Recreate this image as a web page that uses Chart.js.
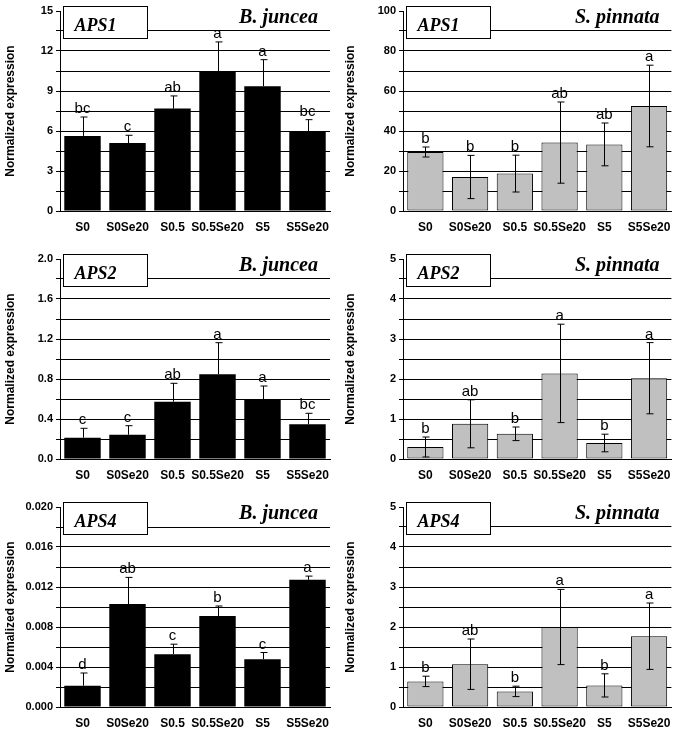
<!DOCTYPE html>
<html>
<head>
<meta charset="utf-8">
<script src="https://cdn.jsdelivr.net/npm/chart.js@4.4.0/dist/chart.umd.min.js"></script>
<style>
  html, body { margin: 0; padding: 0; background: #fff; overflow: hidden; }
  #wrap { position: relative; width: 680px; height: 731px; }
  canvas { position: absolute; }
</style>
</head>
<body>
<div id="wrap">
  <canvas id="c1" width="340" height="235" style="left:0;top:0"></canvas>
  <canvas id="c2" width="340" height="235" style="left:340px;top:0"></canvas>
  <canvas id="c3" width="340" height="235" style="left:0;top:248px"></canvas>
  <canvas id="c4" width="340" height="235" style="left:340px;top:248px"></canvas>
  <canvas id="c5" width="340" height="235" style="left:0;top:496px"></canvas>
  <canvas id="c6" width="340" height="235" style="left:340px;top:496px"></canvas>
</div>
<script>
const categories = ['S0', 'S0Se20', 'S0.5', 'S0.5Se20', 'S5', 'S5Se20'];

// APS1
const aps1Juncea = [5.63, 5.1, 7.68, 10.48, 9.35, 5.98];
const aps1JunceaSE = [1.42, 0.58, 0.95, 2.2, 2.0, 0.87];
const aps1JunceaLetters = ['bc', 'c', 'ab', 'a', 'a', 'bc'];
const aps1Pinnata = [29.5, 17, 18.7, 34.2, 33.3, 52.5];
const aps1PinnataSE = [2.5, 10.8, 9.2, 20.3, 10.7, 20.4];
const aps1PinnataLetters = ['b', 'b', 'b', 'ab', 'ab', 'a'];

// APS2
const aps2Juncea = [0.213, 0.243, 0.573, 0.847, 0.59, 0.347];
const aps2JunceaSE = [0.094, 0.09, 0.184, 0.316, 0.14, 0.11];
const aps2JunceaLetters = ['c', 'c', 'ab', 'a', 'a', 'bc'];
const aps2Pinnata = [0.3, 0.88, 0.63, 2.14, 0.4, 2.02];
const aps2PinnataSE = [0.25, 0.6, 0.17, 1.23, 0.22, 0.89];
const aps2PinnataLetters = ['b', 'ab', 'b', 'a', 'b', 'a'];

// APS4
const aps4Juncea = [0.00213, 0.0103, 0.00528, 0.0091, 0.00478, 0.01272];
const aps4JunceaSE = [0.00127, 0.00266, 0.001, 0.001, 0.00067, 0.00037];
const aps4JunceaLetters = ['d', 'ab', 'c', 'b', 'c', 'a'];
const aps4Pinnata = [0.64, 1.07, 0.39, 2.0, 0.54, 1.77];
const aps4PinnataSE = [0.13, 0.63, 0.13, 0.94, 0.29, 0.83];
const aps4PinnataLetters = ['b', 'ab', 'b', 'a', 'b', 'a'];

// y axis ranges: [max, step, decimals]
const aps1JunceaAxis = [15, 1.5, 0];
const aps1PinnataAxis = [100, 10, 0];
const aps2JunceaAxis = [2.0, 0.2, 1];
const aps2PinnataAxis = [5, 0.5, 0];
const aps4JunceaAxis = [0.02, 0.002, 3];
const aps4PinnataAxis = [5, 0.5, 0];

const SANS = "'Liberation Sans', Arial, sans-serif";
const SERIF = "'Liberation Serif', 'Times New Roman', serif";

Chart.defaults.font.family = SANS;
Chart.defaults.color = '#000';

// error bars, significance letters, gene box and species title
const panelDecor = {
    id: 'panelDecor',
    afterDatasetsDraw(chart, args, opts) {
        const ctx = chart.ctx;
        const area = chart.chartArea;
        const yScale = chart.scales.y;
        const meta = chart.getDatasetMeta(0);
        const values = chart.data.datasets[0].data;

        ctx.save();
        ctx.strokeStyle = '#000';
        ctx.lineWidth = 1;
        meta.data.forEach((bar, i) => {
            const x = Math.round(bar.x) + 0.5;
            const yTop = yScale.getPixelForValue(values[i] + opts.se[i]);
            const yLow = opts.twoSided
                ? yScale.getPixelForValue(values[i] - opts.se[i])
                : yScale.getPixelForValue(values[i]);
            ctx.beginPath();
            ctx.moveTo(x, yLow);
            ctx.lineTo(x, yTop);
            ctx.moveTo(x - 3, yTop);
            ctx.lineTo(x + 4, yTop);
            if (opts.twoSided) {
                ctx.moveTo(x - 3, yLow);
                ctx.lineTo(x + 4, yLow);
            }
            ctx.stroke();

            ctx.fillStyle = '#000';
            ctx.font = '15px ' + SANS;
            ctx.textAlign = 'center';
            ctx.textBaseline = 'alphabetic';
            ctx.fillText(opts.letters[i], bar.x, yTop - 4);
        });

        // gene name box
        const bx = area.left + 3.5;
        const by = area.top - 4.5;
        ctx.fillStyle = '#fff';
        ctx.fillRect(bx, by, 84, 32);
        ctx.strokeRect(bx, by, 84, 32);
        ctx.fillStyle = '#000';
        ctx.font = 'italic bold 18px ' + SERIF;
        ctx.textAlign = 'left';
        ctx.fillText(opts.gene, bx + 11, by + 24);

        // species name
        ctx.font = 'italic bold 20px ' + SERIF;
        ctx.textAlign = 'right';
        ctx.fillText(opts.species, area.right - 12, area.top + 12);
        ctx.restore();
    }
};

function makePanel(id, values, se, letters, axis, gene, species, gray, left) {
    const [max, step, dec] = axis;
    new Chart(document.getElementById(id), {
        type: 'bar',
        data: {
            labels: categories,
            datasets: [{
                data: values,
                backgroundColor: gray ? '#c0c0c0' : '#000',
                borderColor: '#000',
                borderWidth: gray ? 1 : 0,
                borderSkipped: false,
                barPercentage: 0.81,
                categoryPercentage: 1.0,
            }],
        },
        options: {
            responsive: false,
            animation: false,
            layout: { padding: { top: 11, right: left ? 10 : 7, left: 0, bottom: 0 } },
            scales: {
                x: {
                    grid: { display: false, drawTicks: false },
                    border: { display: true, color: '#000', width: 1 },
                    ticks: {
                        padding: 9,
                        maxRotation: 0,
                        autoSkip: false,
                        font: { size: 12, weight: 'bold' },
                    },
                    afterFit: (scale) => { scale.height = 24; },
                },
                y: {
                    min: 0,
                    max: max,
                    border: { display: true, color: '#000', width: 1 },
                    grid: {
                        color: (c) => (c.tick && Math.abs(c.tick.value - max) < step / 100) ? 'rgba(0,0,0,0)' : '#000',
                        tickColor: '#000',
                        tickLength: 4,
                        lineWidth: 1,
                    },
                    ticks: {
                        stepSize: step,
                        padding: 3,
                        font: { size: 11, weight: 'bold' },
                        callback: (v, i) => (i % 2 === 0 ? Number(v).toFixed(dec) : ''),
                    },
                    title: {
                        display: true,
                        text: 'Normalized expression',
                        padding: { top: 3, bottom: 0 },
                        font: { size: 12, weight: 'bold' },
                    },
                    afterFit: (scale) => { scale.width = left ? 60 : 63; },
                },
            },
            plugins: {
                legend: { display: false },
                tooltip: { enabled: false },
                panelDecor: { se: se, letters: letters, gene: gene, species: species, twoSided: gray },
            },
        },
        plugins: [panelDecor],
    });
}

makePanel('c1', aps1Juncea, aps1JunceaSE, aps1JunceaLetters, aps1JunceaAxis, 'APS1', 'B. juncea', false, true);
makePanel('c2', aps1Pinnata, aps1PinnataSE, aps1PinnataLetters, aps1PinnataAxis, 'APS1', 'S. pinnata', true, false);
makePanel('c3', aps2Juncea, aps2JunceaSE, aps2JunceaLetters, aps2JunceaAxis, 'APS2', 'B. juncea', false, true);
makePanel('c4', aps2Pinnata, aps2PinnataSE, aps2PinnataLetters, aps2PinnataAxis, 'APS2', 'S. pinnata', true, false);
makePanel('c5', aps4Juncea, aps4JunceaSE, aps4JunceaLetters, aps4JunceaAxis, 'APS4', 'B. juncea', false, true);
makePanel('c6', aps4Pinnata, aps4PinnataSE, aps4PinnataLetters, aps4PinnataAxis, 'APS4', 'S. pinnata', true, false);
</script>
</body>
</html>
